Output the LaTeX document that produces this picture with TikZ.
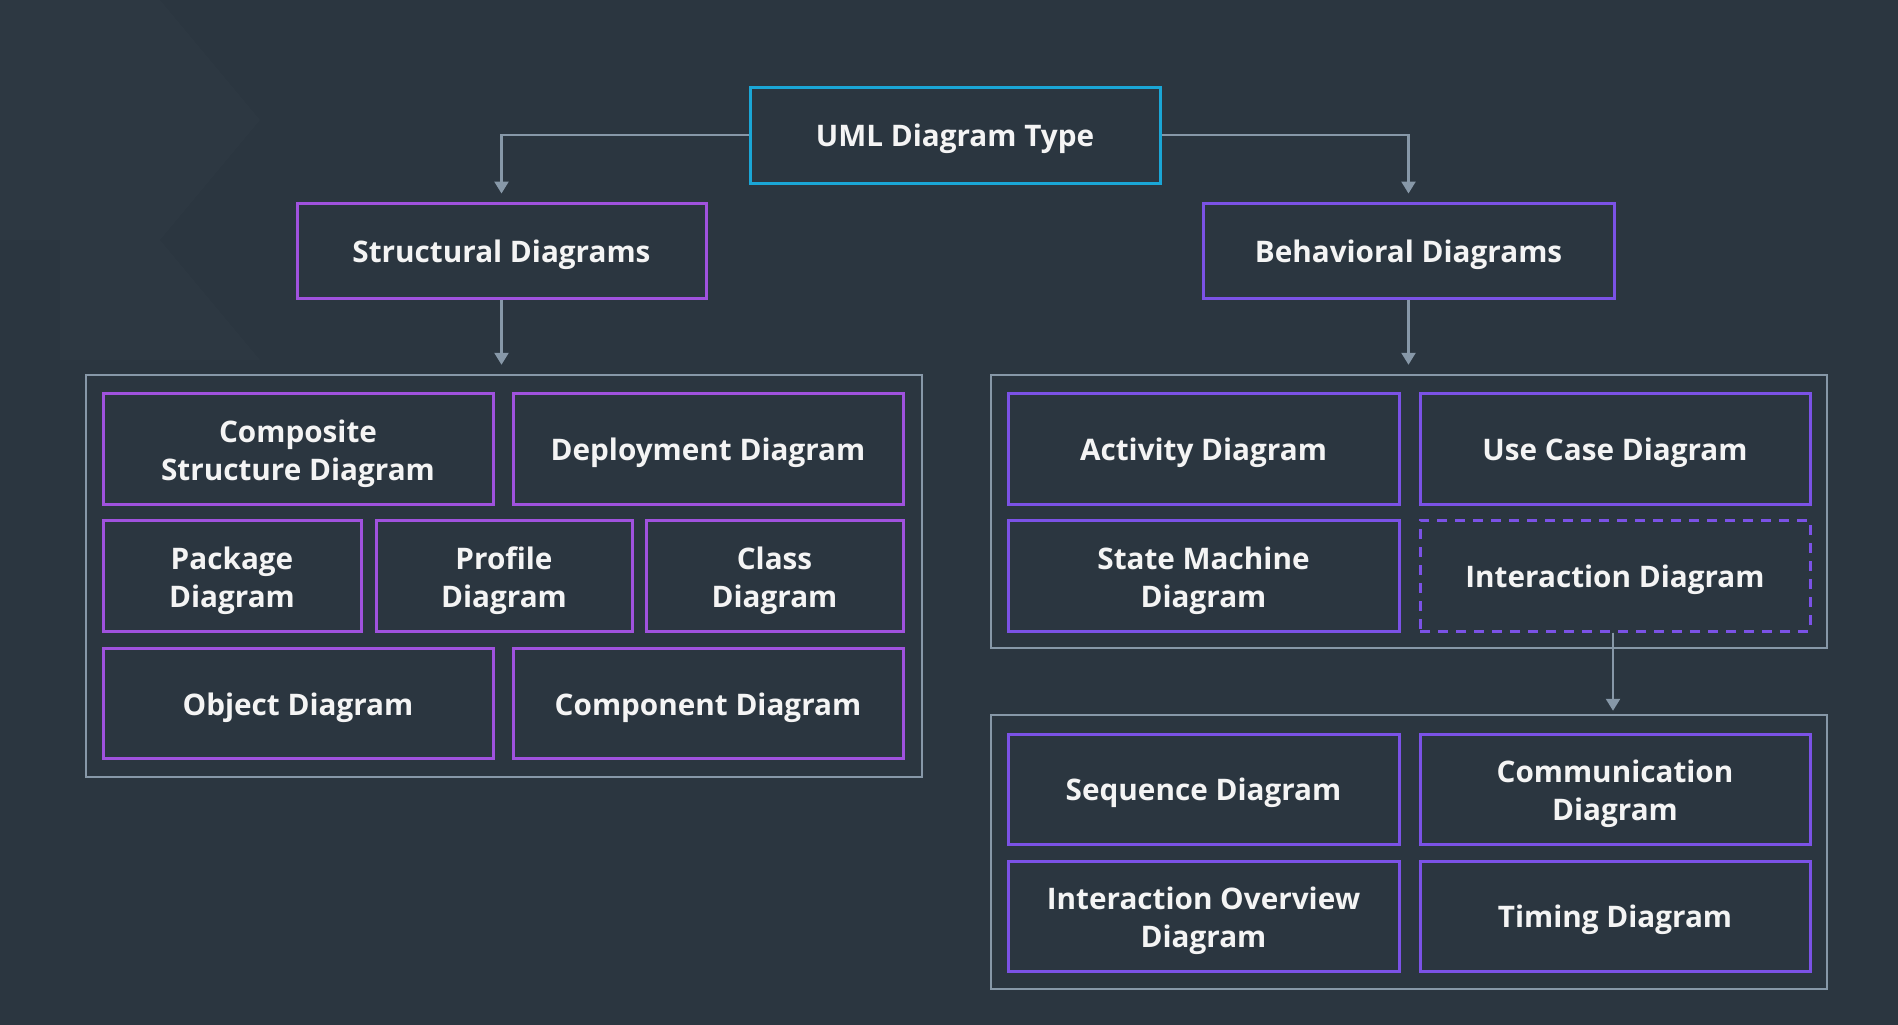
\documentclass[tikz,border=0pt]{standalone}
\usepackage{fontspec}
\setmainfont{Open Sans}
\usetikzlibrary{arrows.meta}
\definecolor{bg}{HTML}{2B3640}
\definecolor{cyanb}{HTML}{1AA6D6}
\definecolor{purpL}{HTML}{A052DE}
\definecolor{purpR}{HTML}{7B52E6}
\definecolor{grayl}{HTML}{8798A8}
\definecolor{txt}{HTML}{F4F4F4}
\tikzset{
  basebox/.style={draw, line width=3pt, fill=bg, inner sep=0pt},
  topbox/.style={basebox, draw=cyanb},
  lbox/.style={basebox, draw=purpL},
  rbox/.style={basebox, draw=purpR},
  dbox/.style={basebox, draw=purpR, dash pattern=on 10pt off 8pt},
  lbl/.style={text=txt, align=center, inner sep=0pt, font=\fontsize{29.7}{38}\selectfont\bfseries},
  cont/.style={draw=grayl, line width=2.5pt, inner sep=0pt},
  conn/.style={draw=grayl, line width=2.5pt, -{Triangle[width=14pt,length=12pt]}},
}
\begin{document}
\begin{tikzpicture}[x=1pt,y=-1pt]
\fill[bg] (0,0) rectangle (1898,1025);
\useasboundingbox (0,0) rectangle (1898,1025);
% subtle background shading
\fill[white,opacity=0.012] (0,0) -- (160,0) -- (260,120) -- (160,240) -- (0,240) -- cycle;
\fill[white,opacity=0.01] (60,240) -- (160,240) -- (260,360) -- (60,360) -- cycle;

% containers
\node[cont, minimum width=836pt, minimum height=402pt] (contL) at (504,576) {};
\node[cont, minimum width=836pt, minimum height=273pt] (contR1) at (1409,511.5) {};
\node[cont, minimum width=836pt, minimum height=274pt] (contR2) at (1409,852) {};

% top levels
\node[topbox, minimum width=410pt, minimum height=96pt] (top) at (955,135) {};
\node[lbox, minimum width=409pt, minimum height=95pt] (struct) at (501.5,250.5) {};
\node[rbox, minimum width=411pt, minimum height=95pt] (behav) at (1408.5,250.5) {};

% structural
\node[lbox, minimum width=390pt, minimum height=111pt] (comp) at (298,448.5) {};
\node[lbox, minimum width=390pt, minimum height=111pt] (depl) at (708,448.5) {};
\node[lbox, minimum width=258pt, minimum height=111pt] (pack) at (232,575.5) {};
\node[lbox, minimum width=256pt, minimum height=111pt] (prof) at (504,575.5) {};
\node[lbox, minimum width=257pt, minimum height=111pt] (class) at (774.5,575.5) {};
\node[lbox, minimum width=390pt, minimum height=110pt] (obj) at (298,703.5) {};
\node[lbox, minimum width=390pt, minimum height=110pt] (compo) at (708,703.5) {};

% behavioral
\node[rbox, minimum width=391pt, minimum height=111pt] (act) at (1203.5,448.5) {};
\node[rbox, minimum width=390pt, minimum height=111pt] (use) at (1615,448.5) {};
\node[rbox, minimum width=391pt, minimum height=111pt] (sm) at (1203.5,575.5) {};
\node[dbox, minimum width=390pt, minimum height=111pt] (inter) at (1615,575.5) {};

% interaction
\node[rbox, minimum width=391pt, minimum height=110pt] (seq) at (1203.5,789) {};
\node[rbox, minimum width=390pt, minimum height=110pt] (comm) at (1615,789) {};
\node[rbox, minimum width=391pt, minimum height=110pt] (io) at (1203.5,916) {};
\node[rbox, minimum width=390pt, minimum height=110pt] (tim) at (1615,916) {};

% labels
\node[lbl] (top-t) at ([yshift=-4pt]top.center) {UML Diagram Type};
\node[lbl] (struct-t) at ([yshift=-4pt]struct.center) {Structural Diagrams};
\node[lbl] (behav-t) at ([yshift=-4pt]behav.center) {Behavioral Diagrams};
\node[lbl] (comp-t) at ([yshift=-5pt]comp.center) {Composite\\Structure Diagram};
\node[lbl] (depl-t) at ([yshift=-4pt]depl.center) {Deployment Diagram};
\node[lbl] (pack-t) at ([yshift=-5pt]pack.center) {Package\\Diagram};
\node[lbl] (prof-t) at ([yshift=-5pt]prof.center) {Profile\\Diagram};
\node[lbl] (class-t) at ([yshift=-5pt]class.center) {Class\\Diagram};
\node[lbl] (obj-t) at ([yshift=-4pt]obj.center) {Object Diagram};
\node[lbl] (compo-t) at ([yshift=-4pt]compo.center) {Component Diagram};
\node[lbl] (act-t) at ([yshift=-4pt]act.center) {Activity Diagram};
\node[lbl] (use-t) at ([yshift=-4pt]use.center) {Use Case Diagram};
\node[lbl] (sm-t) at ([yshift=-5pt]sm.center) {State Machine\\Diagram};
\node[lbl] (inter-t) at ([yshift=-4pt]inter.center) {Interaction Diagram};
\node[lbl] (seq-t) at ([yshift=-4pt]seq.center) {Sequence Diagram};
\node[lbl] (comm-t) at ([yshift=-5pt]comm.center) {Communication\\Diagram};
\node[lbl] (io-t) at ([yshift=-5pt]io.center) {Interaction Overview\\Diagram};
\node[lbl] (tim-t) at ([yshift=-4pt]tim.center) {Timing Diagram};

% connectors
\draw[conn, shorten >=8pt] (top.west) -| (struct.north);
\draw[conn, shorten >=8pt] (top.east) -| (behav.north);
\draw[conn, shorten >=9pt] (struct.south) -- (struct.south |- contL.north);
\draw[conn, shorten >=9pt] (behav.south) -- (behav.south |- contR1.north);
\draw[conn, shorten >=3pt] ([xshift=-2pt]inter.south) -- ([xshift=-2pt]inter.south |- contR2.north);
\end{tikzpicture}
\end{document}
